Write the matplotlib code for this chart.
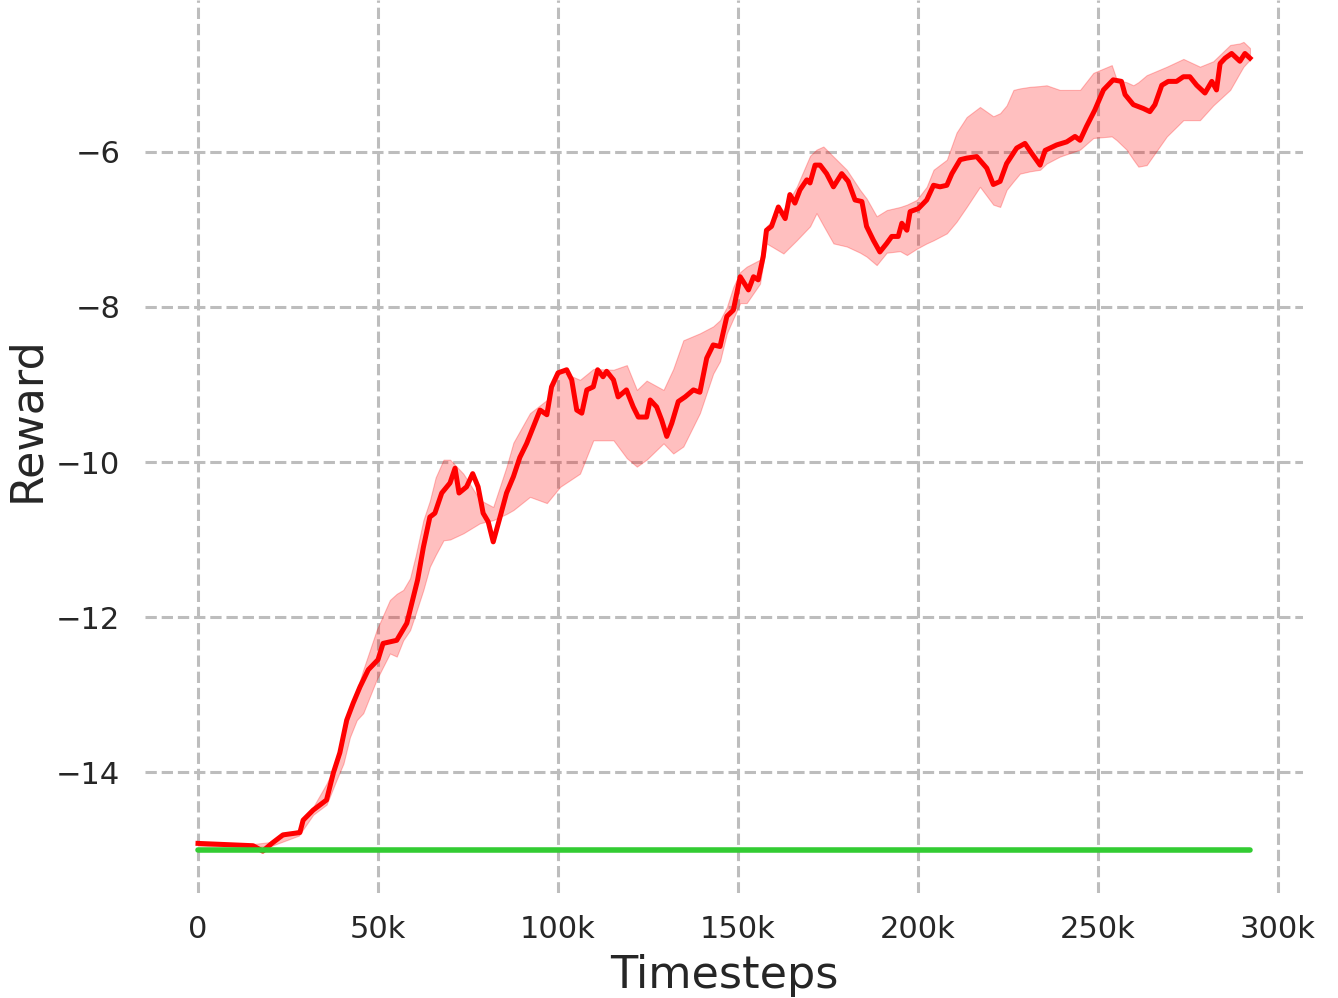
import numpy as np
import matplotlib
matplotlib.use("Agg")
import matplotlib.pyplot as plt
from matplotlib.ticker import FuncFormatter


# ============================================================
# Data (timesteps in thousands)
# ============================================================
mean_steps_k = [
    0, 15.3, 18.0, 20.5, 23.6, 28.3, 29.2, 32.0, 35.7, 37.6, 39.4, 41.3, 43.1,
    45.0, 47.3, 50.0, 51.4, 55.2, 58.0, 59.4, 61.0, 62.6, 64.4, 65.8, 67.7,
    70.0, 71.4, 72.5, 74.6, 76.3, 77.8, 79.2, 80.6, 82.0, 83.9, 85.7, 87.6,
    89.4, 91.3, 93.1, 95.0, 96.9, 98.2, 100.0, 102.4, 103.8, 105.2, 106.6,
    108.0, 109.8, 111.0, 112.5, 113.5, 115.4, 116.7, 119.0, 120.9, 122.3,
    124.6, 125.6, 127.4, 128.8, 130.2, 131.6, 133.4, 135.3, 137.6, 139.4,
    141.3, 143.1, 145.0, 146.9, 148.7, 150.6, 152.9, 154.3, 155.6, 157.0,
    157.9, 159.3, 161.2, 163.1, 164.4, 165.8, 167.2, 169.1, 170.0, 171.4,
    172.8, 174.6, 176.5, 178.8, 180.6, 182.5, 184.4, 185.7, 187.6, 189.4,
    191.3, 192.7, 194.5, 195.5, 196.9, 197.8, 200.1, 202.4, 204.3, 206.1,
    208.0, 209.4, 211.7, 213.5, 216.3, 219.1, 220.9, 222.8, 224.6, 227.4,
    229.7, 231.6, 233.9, 235.3, 238.5, 241.3, 243.6, 245.0, 246.8, 249.1,
    251.5, 254.2, 256.5, 257.5, 259.8, 262.6, 264.4, 265.8, 267.7, 269.5,
    271.8, 273.7, 275.5, 277.4, 279.7, 281.6, 282.9, 283.9, 285.3, 287.1,
    289.4, 290.8, 292.2,
]
mean_reward = [
    -14.92, -14.95, -15.02, -14.92, -14.81, -14.78, -14.62, -14.49, -14.36,
    -14.01, -13.75, -13.33, -13.11, -12.90, -12.68, -12.55, -12.34, -12.30,
    -12.08, -11.82, -11.52, -11.10, -10.71, -10.66, -10.40, -10.27, -10.08,
    -10.40, -10.32, -10.15, -10.32, -10.66, -10.77, -11.03, -10.71, -10.40,
    -10.19, -9.94, -9.76, -9.55, -9.33, -9.39, -9.03, -8.85, -8.81, -8.94,
    -9.33, -9.37, -9.07, -9.03, -8.81, -8.90, -8.83, -8.94, -9.16, -9.07,
    -9.29, -9.42, -9.42, -9.20, -9.29, -9.46, -9.67, -9.50, -9.22, -9.16,
    -9.07, -9.10, -8.66, -8.49, -8.51, -8.12, -8.04, -7.61, -7.78, -7.61,
    -7.65, -7.35, -7.01, -6.96, -6.71, -6.86, -6.55, -6.66, -6.49, -6.36,
    -6.40, -6.17, -6.17, -6.28, -6.45, -6.28, -6.38, -6.62, -6.64, -6.96,
    -7.14, -7.29, -7.18, -7.09, -7.09, -6.92, -7.01, -6.77, -6.73, -6.62,
    -6.43, -6.45, -6.43, -6.28, -6.10, -6.08, -6.06, -6.21, -6.42, -6.38,
    -6.15, -5.95, -5.89, -6.02, -6.17, -5.98, -5.91, -5.87, -5.80, -5.85,
    -5.67, -5.46, -5.20, -5.07, -5.09, -5.26, -5.39, -5.44, -5.48, -5.39,
    -5.14, -5.09, -5.09, -5.03, -5.03, -5.14, -5.24, -5.09, -5.20, -4.86,
    -4.79, -4.73, -4.83, -4.73, -4.79,
]

band_steps_k = [
    0, 15, 20.5, 28, 32, 35.7, 38.5, 40.4, 42.2, 44.1, 45.9, 49.6, 53.3,
    55.2, 57.0, 58.9, 60.5, 62.6, 64.4, 66.0, 68.2, 70.0, 73.7, 78.3, 82.0,
    85.7, 87.6, 92.2, 96.9, 100.6, 106.1, 109.8, 115.4, 119.1, 121.9, 124.6,
    129.3, 132.0, 134.8, 139.4, 143.1, 145.0, 146.9, 148.7, 150.6, 152.4,
    156.1, 157.9, 162.6, 166.3, 170.0, 171.8, 173.7, 176.5, 180.2, 183.9,
    185.7, 188.5, 191.3, 195.0, 196.9, 199.6, 202.4, 204.3, 208.0, 210.7,
    213.5, 217.2, 220.9, 222.8, 224.6, 226.5, 228.3, 231.1, 233.9, 235.7,
    239.4, 245.0, 248.7, 253.8, 255.2, 257.9, 259.8, 261.2, 263.5, 269.1,
    273.7, 278.3, 282.0, 286.7, 289.4, 290.4, 292.2,
]
band_low = [
    -14.95, -14.97, -14.95, -14.82, -14.55, -14.42, -14.10, -13.89, -13.55,
    -13.33, -13.24, -12.81, -12.47, -12.51, -12.30, -12.17, -11.95, -11.65,
    -11.35, -11.20, -11.01, -11.00, -10.92, -10.79, -10.75, -10.67, -10.62,
    -10.45, -10.53, -10.32, -10.15, -9.72, -9.72, -9.95, -10.06, -9.97,
    -9.76, -9.89, -9.80, -9.37, -8.86, -8.70, -8.34, -8.15, -7.95, -7.95,
    -7.70, -7.18, -7.31, -7.14, -6.96, -6.79, -6.95, -7.18, -7.22, -7.30,
    -7.35, -7.46, -7.30, -7.28, -7.33, -7.25, -7.18, -7.14, -7.05, -6.90,
    -6.71, -6.45, -6.68, -6.71, -6.49, -6.38, -6.28, -6.25, -6.23, -6.15,
    -6.06, -5.97, -5.82, -5.80, -5.85, -5.97, -6.10, -6.19, -6.17, -5.80,
    -5.59, -5.59, -5.40, -5.20, -4.98, -4.90, -4.81,
]
band_high = [
    -14.90, -14.93, -14.90, -14.74, -14.45, -14.15, -13.87, -13.55, -13.24,
    -12.95, -12.68, -12.17, -11.78, -11.70, -11.65, -11.50, -11.20, -10.75,
    -10.50, -10.20, -9.97, -9.97, -10.15, -10.49, -10.58, -10.06, -9.75,
    -9.37, -9.20, -8.83, -8.94, -8.80, -8.81, -8.75, -9.07, -8.95, -9.07,
    -8.80, -8.43, -8.34, -8.25, -8.17, -8.00, -7.74, -7.55, -7.48, -7.39,
    -6.96, -6.75, -6.45, -6.05, -5.97, -5.93, -6.06, -6.23, -6.49, -6.60,
    -6.83, -6.75, -6.71, -6.68, -6.62, -6.45, -6.23, -6.10, -5.75, -5.55,
    -5.42, -5.54, -5.50, -5.40, -5.20, -5.18, -5.16, -5.15, -5.14, -5.20,
    -5.20, -4.98, -4.88, -5.07, -5.10, -5.14, -5.10, -5.01, -4.90, -4.80,
    -4.90, -4.83, -4.62, -4.60, -4.58, -4.66,
]

baseline_steps_k = [0, 292.2]
baseline_reward = [-15.0, -15.0]

x_ticks_k = [0, 50, 100, 150, 200, 250, 300]
y_ticks = [-14, -12, -10, -8, -6]


# ============================================================
# Figure
# ============================================================
plt.rcParams["font.family"] = ["DejaVu Sans"]

fig = plt.figure(figsize=(13.38, 9.98), dpi=100)
ax = fig.add_axes([0.1087, 0.1052, 0.8648, 0.8948])

mx = np.array(mean_steps_k) * 1000
bx = np.array(band_steps_k) * 1000

ax.fill_between(bx, band_low, band_high, color="red", alpha=0.25,
                linewidth=0.8, zorder=2)
ax.plot(mx, mean_reward, color="red", lw=3.6, zorder=3)
ax.plot(np.array(baseline_steps_k) * 1000, baseline_reward,
        color="#33cc33", lw=4, solid_capstyle="round", zorder=4)

ax.set_xlim(-14.6e3, 306.8e3)
ax.set_ylim(-15.56, -4.04)

ax.set_xticks(np.array(x_ticks_k) * 1000)
ax.set_yticks(y_ticks)
ax.xaxis.set_major_formatter(
    FuncFormatter(lambda v, p: "0" if v == 0 else f"{int(round(v / 1000))}k"))

# grid / spines
ax.grid(True, linestyle="--", linewidth=2.2, color="#bdbdbd")
ax.set_axisbelow(True)
for s in ax.spines.values():
    s.set_visible(False)

ax.tick_params(axis="both", length=0, labelsize=22, colors="#262626")
ax.tick_params(axis="x", pad=16)
ax.tick_params(axis="y", pad=18)

ax.set_xlabel("Timesteps", fontsize=32, color="#262626", labelpad=7)
ax.set_ylabel("Reward", fontsize=32, color="#262626", labelpad=6)
# label sits a bit above the axes centre in the reference
ax.yaxis.label.set_y(0.531)

fig.savefig("out.png", dpi=100)
